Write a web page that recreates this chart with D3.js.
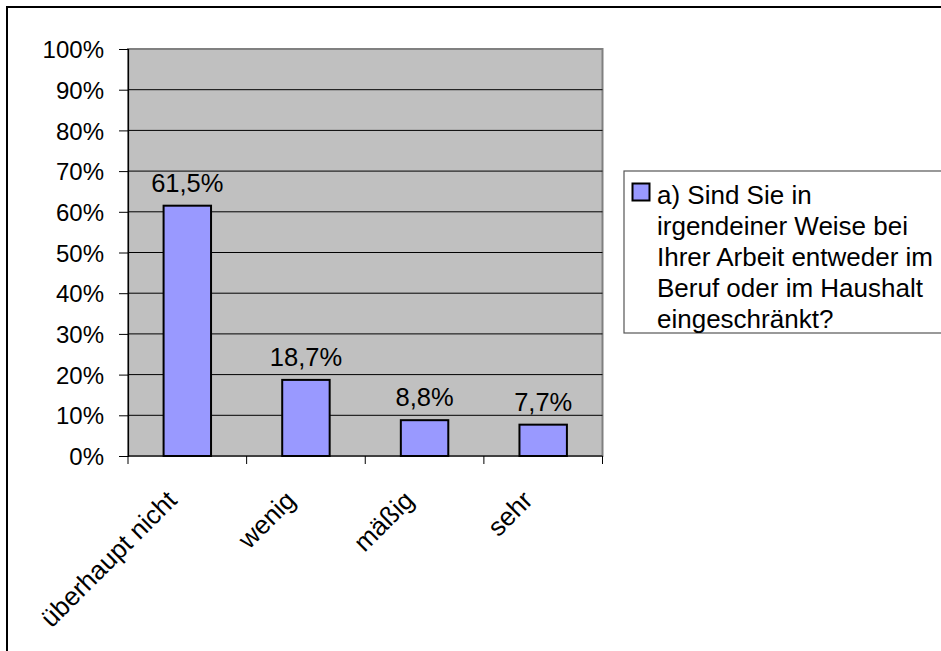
<!DOCTYPE html>
<html>
<head>
<meta charset="utf-8">
<script src="https://cdn.jsdelivr.net/npm/d3@7"></script>
<style>
  html, body { margin: 0; padding: 0; background: #fff; }
  svg { display: block; }
  text { font-family: "Liberation Sans", Arial, sans-serif; fill: #000; }
</style>
</head>
<body>
<svg id="chart" width="941" height="651"></svg>
<script>
// Antworten auf die Frage nach Einschränkungen bei der Arbeit
const categories = ["überhaupt nicht", "wenig", "mäßig", "sehr"];
const values = [61.5, 18.7, 8.8, 7.7];
const valueLabels = ["61,5%", "18,7%", "8,8%", "7,7%"];
const yTicks = [0, 10, 20, 30, 40, 50, 60, 70, 80, 90, 100];
const legendLines = [
  "a) Sind Sie in",
  "irgendeiner Weise bei",
  "Ihrer Arbeit entweder im",
  "Beruf oder im Haushalt",
  "eingeschränkt?"
];

const svg = d3.select("#chart");

const plot = { left: 128, right: 602.5, top: 49, bottom: 456 };

const x = d3.scaleBand()
  .domain(categories)
  .range([plot.left, plot.right])
  .padding(0);

const y = d3.scaleLinear()
  .domain([0, 100])
  .range([plot.bottom, plot.top]);

// outer chart frame
svg.append("rect")
  .attr("x", 7).attr("y", 7)
  .attr("width", 960).attr("height", 680)
  .attr("fill", "#fff")
  .attr("stroke", "#000")
  .attr("stroke-width", 2);

// plot background
svg.append("rect")
  .attr("x", plot.left).attr("y", plot.top)
  .attr("width", plot.right - plot.left)
  .attr("height", plot.bottom - plot.top)
  .attr("fill", "#c0c0c0")
  .attr("stroke", "#808080")
  .attr("stroke-width", 2);

// horizontal gridlines
svg.append("g")
  .selectAll("line")
  .data(yTicks.filter(t => t > 0 && t < 100))
  .join("line")
  .attr("x1", plot.left).attr("x2", plot.right)
  .attr("y1", d => y(d)).attr("y2", d => y(d))
  .attr("stroke", "#000")
  .attr("stroke-width", 1);

// y axis
const yAxis = svg.append("g")
  .attr("transform", `translate(${plot.left},0)`)
  .call(d3.axisLeft(y)
    .tickValues(yTicks)
    .tickFormat(d => d + "%")
    .tickSize(9)
    .tickPadding(15));
yAxis.select(".domain").attr("stroke", "#000").attr("stroke-width", 1.2);
yAxis.selectAll(".tick line").attr("stroke", "#000");
yAxis.selectAll(".tick text")
  .attr("font-size", 24)
  .attr("font-family", "Liberation Sans, Arial, sans-serif")
  .attr("dy", "0.36em");

// x axis with ticks on category boundaries
const xAxisG = svg.append("g")
  .attr("transform", `translate(0,${plot.bottom})`);
xAxisG.append("line")
  .attr("x1", plot.left).attr("x2", plot.right)
  .attr("y1", 0).attr("y2", 0)
  .attr("stroke", "#000").attr("stroke-width", 1.2);
const boundaries = categories.map(c => x(c)).concat([x(categories[categories.length - 1]) + x.bandwidth()]);
xAxisG.selectAll("line.tk")
  .data(boundaries)
  .join("line")
  .attr("class", "tk")
  .attr("x1", d => d).attr("x2", d => d)
  .attr("y1", 0).attr("y2", 8)
  .attr("stroke", "#000");

xAxisG.selectAll("text.cat")
  .data(categories)
  .join("text")
  .attr("class", "cat")
  .attr("text-anchor", "end")
  .attr("font-size", 26)
  .attr("transform", d => `translate(${x(d) + x.bandwidth() / 2 - 9},${46}) rotate(-45)`)
  .text(d => d);

// bars
const barW = x.bandwidth() * 0.4;
svg.append("g")
  .selectAll("rect")
  .data(categories.map((c, i) => ({ c, v: values[i], label: valueLabels[i] })))
  .join("rect")
  .attr("x", d => x(d.c) + (x.bandwidth() - barW) / 2)
  .attr("y", d => y(d.v))
  .attr("width", barW)
  .attr("height", d => y(0) - y(d.v))
  .attr("fill", "#9999ff")
  .attr("stroke", "#000")
  .attr("stroke-width", 2);

// value labels
svg.append("g")
  .selectAll("text")
  .data(categories.map((c, i) => ({ c, v: values[i], label: valueLabels[i] })))
  .join("text")
  .attr("x", d => x(d.c) + x.bandwidth() / 2)
  .attr("y", d => y(d.v) - 14)
  .attr("text-anchor", "middle")
  .attr("font-size", 25.5)
  .text(d => d.label);

// legend
const legend = svg.append("g");
legend.append("rect")
  .attr("x", 624).attr("y", 171)
  .attr("width", 340).attr("height", 162)
  .attr("fill", "#fff")
  .attr("stroke", "#555")
  .attr("stroke-width", 1.2);
legend.append("rect")
  .attr("x", 632.5).attr("y", 183.5)
  .attr("width", 17).attr("height", 17)
  .attr("fill", "#9999ff")
  .attr("stroke", "#000")
  .attr("stroke-width", 2);
legend.selectAll("text")
  .data(legendLines)
  .join("text")
  .attr("x", 657)
  .attr("y", (d, i) => 204.3 + i * 30.8)
  .attr("font-size", 26)
  .text(d => d);
</script>
</body>
</html>
